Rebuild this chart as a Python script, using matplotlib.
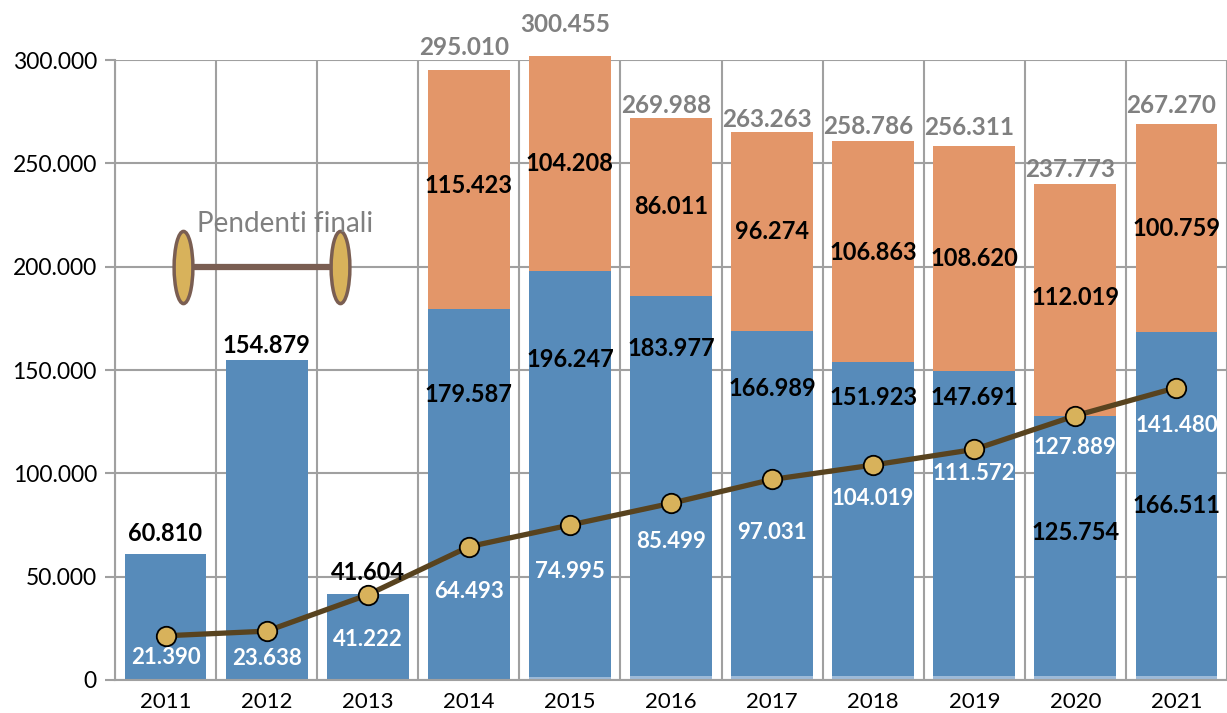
import numpy as np
import matplotlib.pyplot as plt
from matplotlib.path import Path
from matplotlib.transforms import Affine2D

plt.rcParams['font.family'] = ['Lato', 'DejaVu Sans']

anni = ['2011', '2012', '2013', '2014', '2015', '2016', '2017', '2018', '2019', '2020', '2021']
# serie principale (blu)
blu = [60810, 154879, 41604, 179587, 196247, 183977, 166989, 151923, 147691, 125754, 166511]
# seconda serie (arancio), solo dal 2014
arancio = [0, 0, 0, 115423, 104208, 86011, 96274, 106863, 108620, 112019, 100759]
# striscia chiara alla base (stimata)
chiaro = [0, 0, 0, 0, 1500, 2000, 2000, 2000, 2000, 2000, 2000]
totali = [None, None, None, 295010, 300455, 269988, 263263, 258786, 256311, 237773, 267270]
# linea "Pendenti finali"
pendenti = [21390, 23638, 41222, 64493, 74995, 85499, 97031, 104019, 111572, 127889, 141480]

# posizioni delle etichette (spostate a mano nell'originale)
y_blu = [71000, 162000, 52000, 138000, 155000, 160500, 141000, 136500, 136500, 71500, 84500]
y_ara = [None, None, None, 239500, 250000, 229000, 217000, 207000, 204000, 185000, 218500]
y_tot = [None, None, None, 306000, 317000, 278000, 271000, 268000, 267500, 247000, 278000]
y_pen = [11000, 10200, 19400, 43000, 52300, 66800, 71600, 87600, 99700, 112300, 123000]

c_blu = '#578BBA'
c_ara = '#E39669'
c_chiaro = '#9DBAD8'
c_linea = '#58431F'
c_punto = '#D8B25B'
c_griglia = '#A0A0A0'

x = np.arange(len(anni))
w = 0.81

fig = plt.figure(figsize=(12.27, 7.13), dpi=100)
ax = fig.add_axes([0.0937, 0.0463, 0.9063, 0.8695])

base = np.array(chiaro)
ax.bar(x, chiaro, w, color=c_chiaro, zorder=2, clip_on=False)
ax.bar(x, blu, w, bottom=base, color=c_blu, zorder=2, clip_on=False)
ax.bar(x, arancio, w, bottom=base + np.array(blu), color=c_ara, zorder=2, clip_on=False)

ax.plot(x, pendenti, color=c_linea, lw=3.8, marker='o', ms=14,
        mfc=c_punto, mec='black', mew=1.3, zorder=4)

for i in range(len(anni)):
    ax.text(x[i], y_blu[i], f'{blu[i]:,}'.replace(',', '.'), ha='center', va='center',
            fontsize=17, fontweight='bold', color='black', zorder=5)
    ax.text(x[i], y_pen[i], f'{pendenti[i]:,}'.replace(',', '.'), ha='center', va='center',
            fontsize=16, fontweight='bold', color='white', zorder=5)
    if arancio[i]:
        ax.text(x[i], y_ara[i], f'{arancio[i]:,}'.replace(',', '.'), ha='center', va='center',
                fontsize=17, fontweight='bold', color='black', zorder=5)
    if totali[i]:
        ax.text(x[i] - 0.05, y_tot[i], f'{totali[i]:,}'.replace(',', '.'), ha='center', va='center',
                fontsize=17.5, fontweight='bold', color='#808080', zorder=5, clip_on=False)

# simbolo "Pendenti finali"
ellisse = Path.unit_circle().transformed(Affine2D().scale(0.26, 1.0))
ax.plot([0.17, 1.73], [200000, 200000], color='#7A5E52', lw=4.5, zorder=4)
ax.plot([0.17, 1.73], [200000, 200000], ls='none', marker=ellisse, ms=52,
        mfc=c_punto, mec='#7A5E52', mew=2.5, zorder=5)
ax.text(1.18, 220500, 'Pendenti finali', ha='center', va='center',
        fontsize=20, color='#808080', zorder=5)

ax.set_xlim(-0.5, len(anni) - 0.5)
ax.set_ylim(0, 300000)
ax.set_yticks(np.arange(0, 300001, 50000))
ax.set_yticklabels([f'{v:,}'.replace(',', '.') for v in range(0, 300001, 50000)], fontsize=16.5)
ax.set_xticks(x)
ax.set_xticklabels(anni, fontsize=16)
ax.set_xticks(np.arange(-0.5, len(anni), 1), minor=True)
ax.tick_params(axis='x', which='both', length=0, pad=9)
ax.tick_params(axis='y', length=7, color=c_griglia, width=1.5, pad=6)

ax.grid(axis='y', color=c_griglia, lw=1.5, zorder=0)
ax.grid(axis='x', which='minor', color=c_griglia, lw=1.5, zorder=0)
ax.set_axisbelow(True)
for s in ['top', 'right']:
    ax.spines[s].set_visible(False)
ax.spines['left'].set_color(c_griglia)
ax.spines['left'].set_linewidth(1.5)
ax.spines['bottom'].set_color(c_griglia)
ax.spines['bottom'].set_linewidth(1.5)

fig.savefig('out.png', dpi=100)
